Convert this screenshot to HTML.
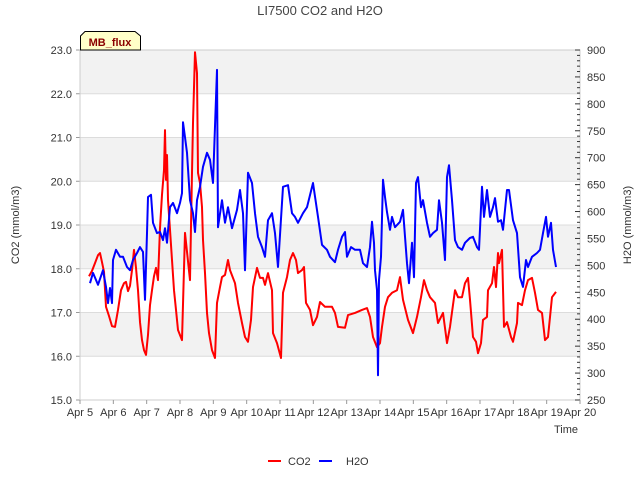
<!DOCTYPE html>
<html><head><meta charset="utf-8"><style>
body{margin:0;background:#fff;}
svg{display:block;font-family:"Liberation Sans","DejaVu Sans",sans-serif;}
</style></head><body>
<svg id="chart" width="640" height="480"></svg>
<script>
const xTickLabels=["Apr 5","Apr 6","Apr 7","Apr 8","Apr 9","Apr 10","Apr 11","Apr 12","Apr 13","Apr 14","Apr 15","Apr 16","Apr 17","Apr 18","Apr 19","Apr 20"];
const co2Ticks=[15,16,17,18,19,20,21,22,23];
const h2oTicks=[250,300,350,400,450,500,550,600,650,700,750,800,850,900];
const co2Days=[0.27,0.36,0.45,0.54,0.60,0.66,0.72,0.78,0.87,0.96,1.05,1.14,1.23,1.32,1.38,1.44,1.50,1.56,1.62,1.68,1.74,1.80,1.86,1.92,1.98,2.04,2.10,2.16,2.22,2.28,2.34,2.40,2.46,2.52,2.55,2.58,2.61,2.64,2.70,2.76,2.82,2.88,2.94,3.06,3.15,3.30,3.36,3.39,3.45,3.51,3.54,3.60,3.66,3.69,3.75,3.81,3.87,3.96,4.05,4.11,4.20,4.26,4.35,4.44,4.50,4.65,4.74,4.86,4.95,5.04,5.13,5.19,5.31,5.40,5.49,5.55,5.64,5.76,5.79,5.91,6.03,6.09,6.21,6.30,6.39,6.48,6.54,6.66,6.72,6.78,6.90,6.99,7.11,7.20,7.35,7.56,7.65,7.74,7.95,8.04,8.25,8.46,8.61,8.70,8.79,8.91,9.00,9.06,9.15,9.24,9.36,9.51,9.60,9.69,9.84,9.99,10.11,10.23,10.32,10.41,10.50,10.65,10.74,10.89,11.01,11.10,11.25,11.34,11.46,11.55,11.64,11.70,11.79,11.88,11.94,12.03,12.09,12.21,12.24,12.36,12.42,12.48,12.54,12.57,12.66,12.72,12.81,12.93,12.99,13.11,13.14,13.26,13.35,13.44,13.56,13.65,13.74,13.86,13.95,14.04,14.16,14.28];
const co2Values=[17.83,17.95,18.13,18.31,18.36,18.15,17.93,17.13,16.92,16.69,16.67,17.06,17.51,17.67,17.70,17.49,17.61,17.97,18.43,18.02,17.51,16.78,16.37,16.14,16.03,16.49,17.17,17.51,17.83,18.02,17.74,18.93,19.69,20.26,21.17,20.03,20.60,19.57,18.89,18.20,17.51,17.06,16.60,16.37,18.82,17.74,20.19,21.33,22.95,22.47,20.19,19.96,19.41,18.66,17.90,16.99,16.53,16.14,15.96,17.22,17.58,17.81,17.86,18.20,17.97,17.67,17.22,16.76,16.44,16.33,16.83,17.58,18.02,17.79,17.79,17.63,17.90,17.51,16.53,16.30,15.96,17.45,17.81,18.20,18.36,18.20,17.90,17.97,18.04,17.22,17.06,16.71,16.90,17.24,17.13,17.13,16.99,16.67,16.65,16.94,16.99,17.06,17.10,16.90,16.44,16.21,16.30,16.67,17.13,17.35,17.45,17.51,17.81,17.29,16.83,16.53,16.90,17.35,17.74,17.51,17.35,17.22,16.76,16.99,16.30,16.67,17.51,17.35,17.35,17.67,17.79,17.29,16.44,16.33,16.07,16.30,16.83,16.90,17.51,17.67,18.04,17.58,18.36,18.13,18.43,16.67,16.78,16.44,16.33,16.76,17.22,17.17,17.51,17.74,17.79,17.45,17.06,16.99,16.37,16.44,17.35,17.47];
const h2oDays=[0.30,0.39,0.54,0.69,0.78,0.84,0.90,0.96,0.99,1.08,1.20,1.29,1.41,1.50,1.59,1.71,1.80,1.89,1.95,2.01,2.04,2.13,2.19,2.31,2.40,2.49,2.55,2.61,2.70,2.79,2.91,3.00,3.06,3.09,3.15,3.21,3.30,3.39,3.45,3.51,3.60,3.69,3.81,3.90,3.99,4.11,4.14,4.26,4.35,4.44,4.56,4.71,4.80,4.89,4.95,5.04,5.16,5.25,5.34,5.46,5.55,5.64,5.76,5.85,5.94,6.09,6.24,6.36,6.45,6.54,6.69,6.81,6.99,7.14,7.26,7.41,7.50,7.65,7.74,7.86,7.95,8.01,8.13,8.25,8.40,8.49,8.61,8.70,8.76,8.82,8.85,8.91,8.94,8.97,9.03,9.09,9.15,9.21,9.30,9.36,9.45,9.60,9.69,9.81,9.87,9.96,10.02,10.08,10.14,10.23,10.29,10.41,10.50,10.59,10.71,10.77,10.86,10.95,11.01,11.07,11.16,11.25,11.34,11.46,11.55,11.70,11.79,11.91,11.97,12.06,12.12,12.21,12.30,12.39,12.45,12.54,12.63,12.69,12.81,12.87,12.99,13.11,13.20,13.29,13.38,13.44,13.56,13.71,13.80,13.89,13.98,14.04,14.13,14.19,14.28];
const h2oValues=[467,486,464,491,460,430,458,430,510,529,516,516,497,491,510,523,534,525,436,560,627,631,579,560,562,547,569,542,608,616,597,616,634,766,738,709,621,597,562,621,646,683,709,696,653,863,571,621,579,608,569,603,640,597,491,672,653,597,553,534,516,584,597,560,497,646,649,597,590,579,597,608,653,590,538,529,516,506,529,553,562,516,534,529,529,504,497,534,581,542,491,454,296,473,516,659,627,599,566,590,571,581,603,504,467,542,478,653,664,608,621,579,553,560,566,621,579,510,664,686,621,547,534,529,542,551,553,534,529,646,590,640,590,608,625,581,584,566,640,640,584,560,478,460,510,497,516,523,529,560,590,553,579,529,497];

const NS="http://www.w3.org/2000/svg";
const svg=document.getElementById('chart');
const L=80,R=580,T=50,B=400;
const xS=d=>L+d*(R-L)/15;
const yC=v=>B-(v-15)*(B-T)/8;
const yH=v=>B-(v-250)*(B-T)/650;
function mk(tag,attrs,parent){const e=document.createElementNS(NS,tag);for(const k in attrs)e.setAttribute(k,attrs[k]);(parent||svg).appendChild(e);return e;}
function txt(s,attrs){const e=mk('text',attrs);e.textContent=s;return e;}

for(let v=15;v<23;v++){
  const b=mk('rect',{x:L,y:yC(v+1),width:R-L,height:yC(v)-yC(v+1),fill:(v%2===0)?'#f2f2f2':'#ffffff'});
  
  
}
co2Ticks.forEach(v=>{
  const g=mk('line',{x1:L,x2:R,y1:yC(v),y2:yC(v),stroke:'#dcdcdc','stroke-width':1});
  
  
  mk('line',{x1:L-4,x2:L,y1:yC(v),y2:yC(v),stroke:'#999'});
  const t=txt(v.toFixed(1),{x:L-8,y:yC(v)+4,'text-anchor':'end','font-size':11,fill:'#333'});
  
  
});
const fr=mk('rect',{x:L,y:T,width:R-L,height:B-T,fill:'none',stroke:'#cccccc'});


for(let v=250;v<=900;v+=10){
  const major=v%50===0;
  mk('line',{x1:R-(major?5:3),x2:R,y1:yH(v),y2:yH(v),stroke:'#333','stroke-width':1});
}
h2oTicks.forEach(v=>{
  const t=txt(String(v),{x:R+7,y:yH(v)+4,'font-size':11,fill:'#333'});
  
  
});
xTickLabels.forEach((s,i)=>{
  mk('line',{x1:xS(i),x2:xS(i),y1:B,y2:B+4,stroke:'#999'});
  const t=txt(s,{x:xS(i),y:B+16,'text-anchor':'middle','font-size':11,fill:'#333'});
  
  
});
const co2Pts=co2Days.map((d,i)=>xS(d).toFixed(1)+','+yC(co2Values[i]).toFixed(1)).join(' ');
const co2Line=mk('polyline',{points:co2Pts,fill:'none',stroke:'#ff0000','stroke-width':2,'stroke-linejoin':'round'});


const h2oPts=h2oDays.map((d,i)=>xS(d).toFixed(1)+','+yH(h2oValues[i]).toFixed(1)).join(' ');
const h2oLine=mk('polyline',{points:h2oPts,fill:'none',stroke:'#0000ff','stroke-width':2,'stroke-linejoin':'round'});


</script>
<svg style="position:absolute;left:0;top:0" width="640" height="480">
<text x="320" y="15" text-anchor="middle" font-size="13" fill="#444">LI7500 CO2 and H2O</text>
<text transform="translate(19,225) rotate(-90)" text-anchor="middle" font-size="11" fill="#333">CO2 (mmol/m3)</text>
<text transform="translate(631,225) rotate(-90)" text-anchor="middle" font-size="11" fill="#333">H2O (mmol/m3)</text>
<text x="578" y="433" text-anchor="end" font-size="11" fill="#333">Time</text>
<g>
<path d="M80.5,50 L80.5,36 L85,31.5 L135,31.5 L140.5,36 L140.5,50 Z" fill="#ffffc8" stroke="#000" stroke-width="1"/>
<text x="110" y="46" text-anchor="middle" font-size="11" font-weight="bold" fill="#8b0000">MB_flux</text>
</g>
<g>
<line x1="268" x2="281" y1="461" y2="461" stroke="#ff0000" stroke-width="2"/>
<text x="288" y="465" font-size="11" fill="#333">CO2</text>
</g>
<g>
<line x1="319" x2="332" y1="461" y2="461" stroke="#0000ff" stroke-width="2"/>
<text x="346" y="465" font-size="11" fill="#333">H2O</text>
</g>
</svg>
</body></html>
